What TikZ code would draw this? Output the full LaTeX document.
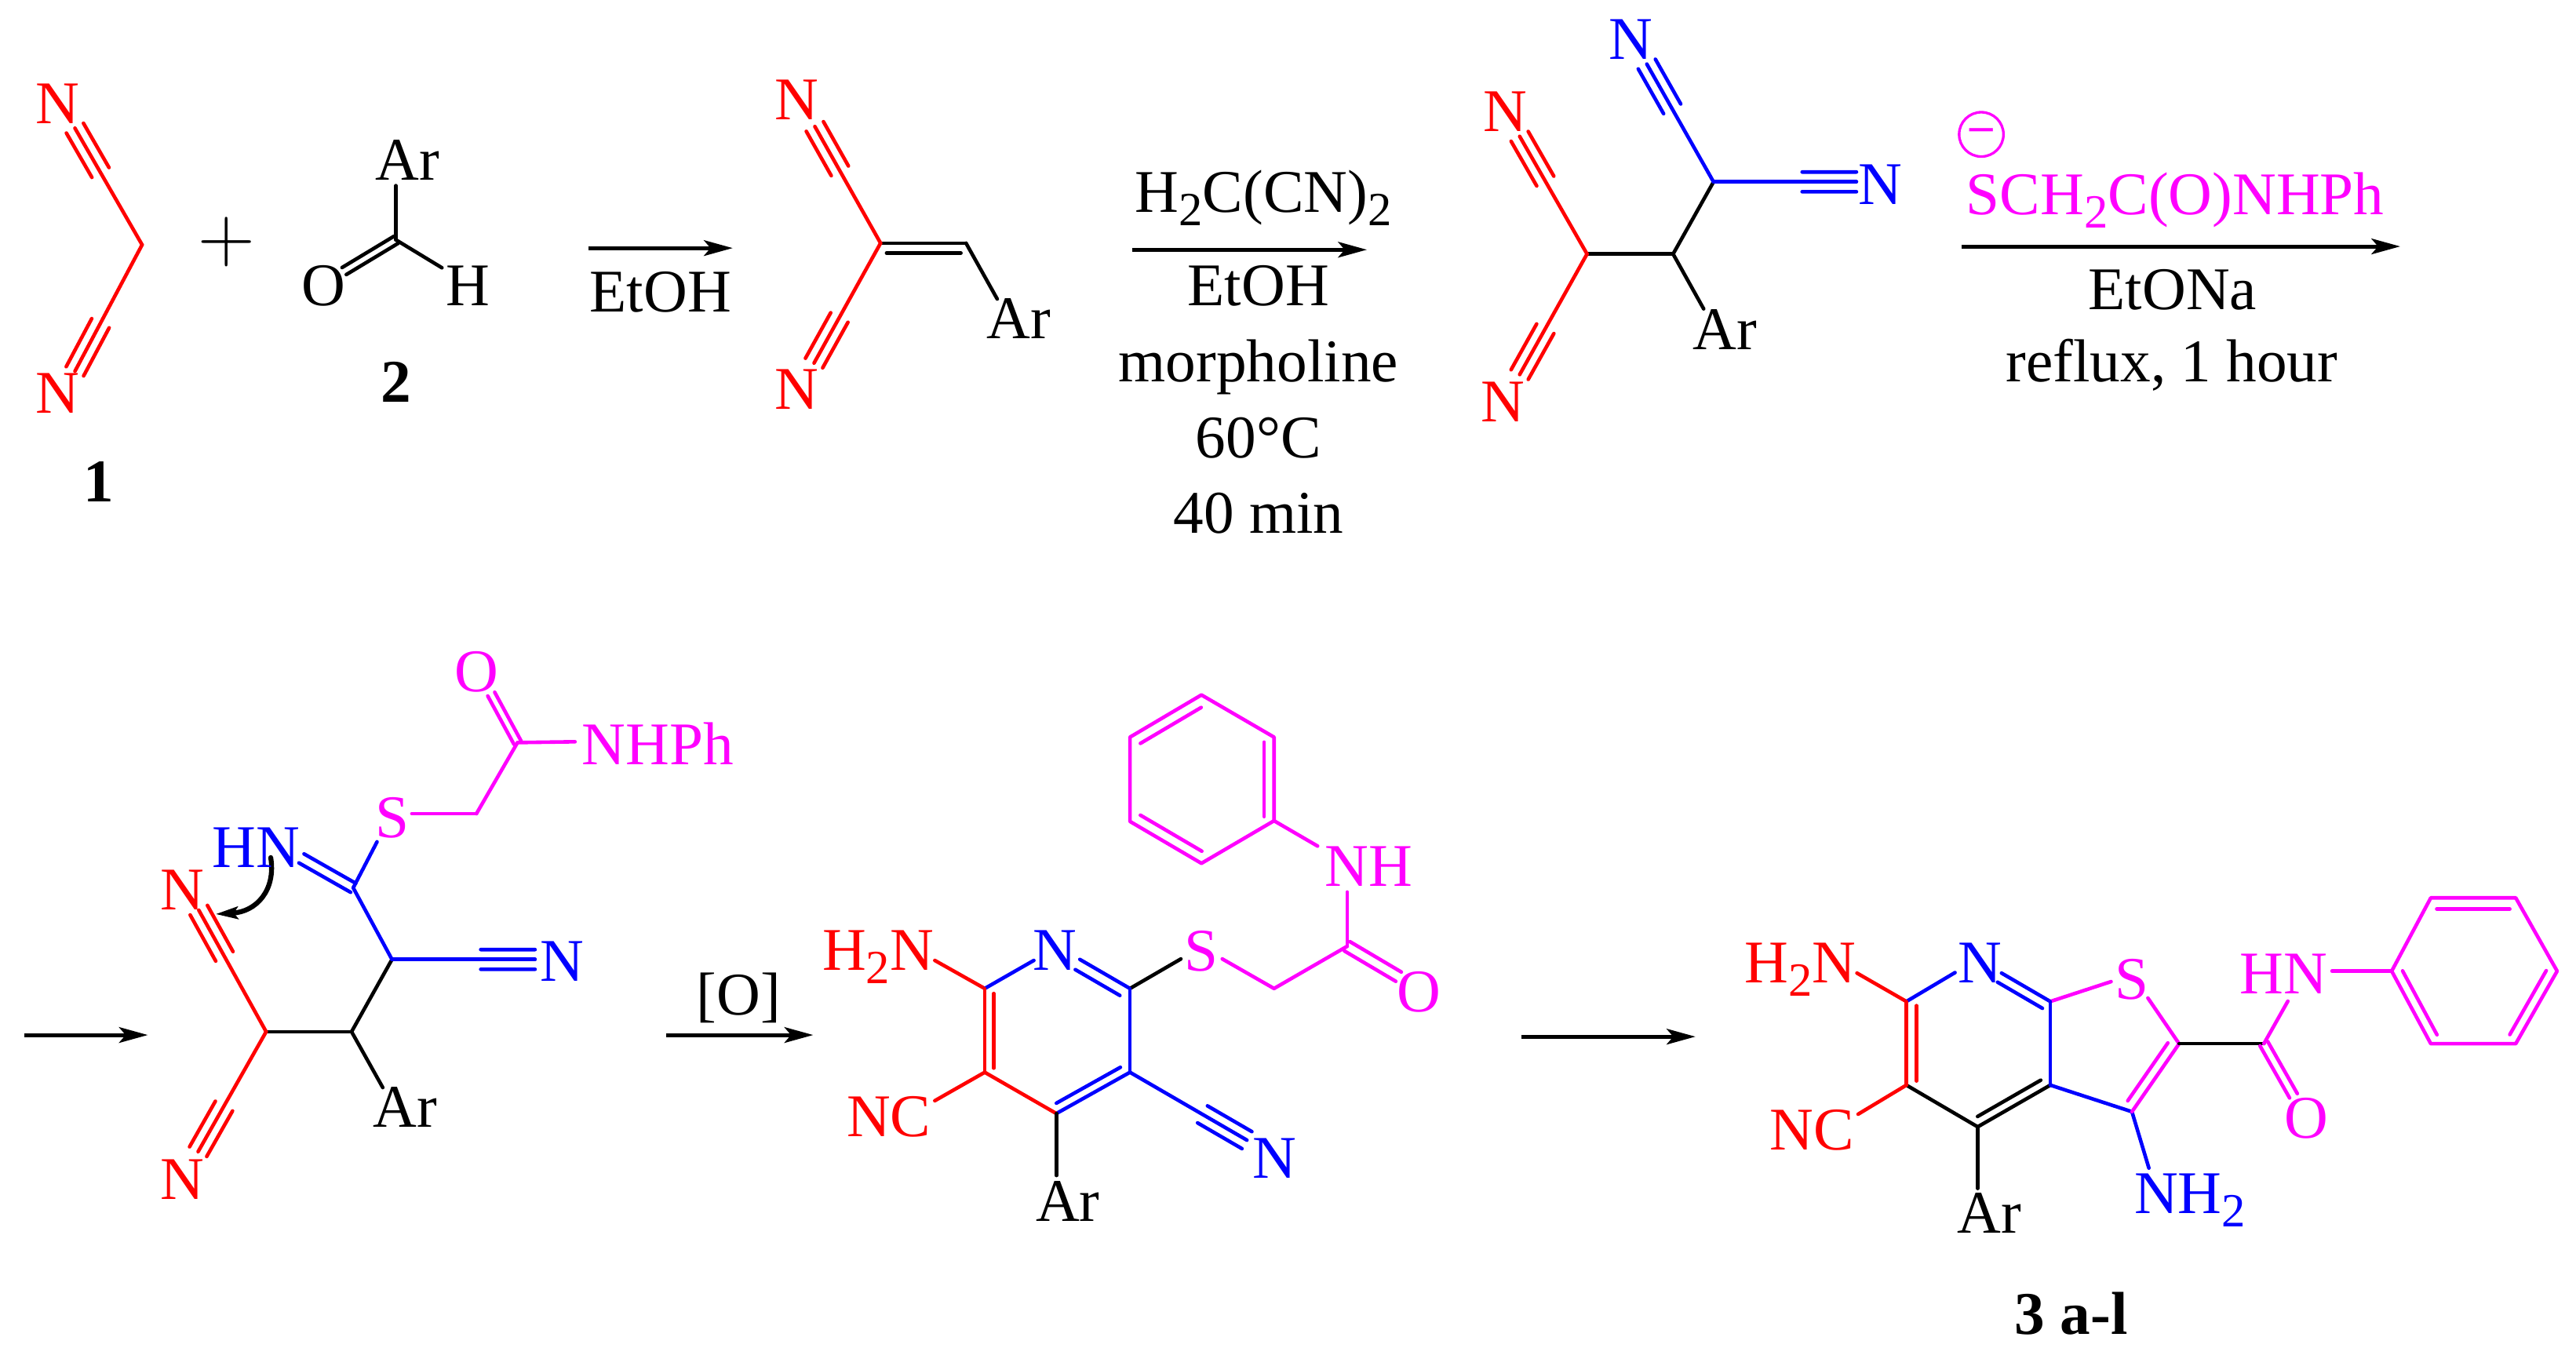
\documentclass[tikz,border=0pt]{standalone}
\usepackage{fontspec}
\setmainfont{Liberation Serif}
\usetikzlibrary{calc, arrows.meta}
\definecolor{magenta}{rgb}{1,0,1}
\newcommand{\chemsub}[1]{\raisebox{-0.22em}{\fontsize{16.5}{17}\selectfont #1}}
\newcommand{\tbond}[3]{\draw[bond,#3] (#1) -- (#2);
\foreach \off in {-0.12cm,0.12cm}{\draw[bond,#3] ($(#1)!0.62!(#2)!\off!90:(#2)$) -- ($(#2)!\off!-90:(#1)$);}}
\tikzset{
atom/.style={anchor=base, inner sep=0pt, font=\fontsize{21}{25}\selectfont},
bond/.style={line width=1.25pt, line cap=round, line join=round},
rxn/.style={line width=1.35pt, -{Stealth[length=0.35cm, width=0.19cm, inset=0.08cm]}}
}
\begin{document}
\begin{tikzpicture}[x=0.02cm, y=-0.02cm]
\useasboundingbox (0,0) rectangle (1568,826.8);
\foreach \nm/\x/\y in {
c1/86.5/149, e1t/45.6/78, e1b/45.6/226,
c2/241/146, c2a/241/113, c2o/209.5/165, c2h/269/163,
c3a/536/148, c3b/588/148, e3t/496/77, e3b/495.5/221, e3ar/607/182,
c4a/966/154.6, c4b/1018.4/154.6, c4c/1043/110.7, e4r/1130/110.7, e4t/1002.4/39, e5t/925/83, e5b/925/228, e4ar/1037/188,
c5a/162/628, c5b/214/628, c5c/238.6/584, c5d/215/540.4, e6t/121/554, e6b/120.6/701, e6r/325.7/584, e6n/183.5/522.5,
e6s/229.5/512.4, e6ar/233/662, e7s/250.7/495.3, c5e/290/495.3, c5f/315/452, c5o/299/422.5, e7n/350/451.5,
d2/599.4/601.7, d3/599.4/652.7, d4/643/677.8, d5/687.8/652.7, d6/687.8/601.7, d7/775.5/601.7, d8/820/576,
f7h/569/584.6, f7n/629.3/584.6, f7m/657.3/584, f7s/718.8/583.7, f7t/744/583.7, f7o/851.3/594.5, f7u/820/543, f7v/802/515,
f7c/569/670, f7a/643/715.5, f7r/759/694,
p1/731.3/423, p2/775.5/448.7, p3/775.5/499.6, p4/731.3/525.5, p5/687.8/500, p6/687.8/448.7,
g2/1160.4/609.6, g3/1160.4/660.5, g4/1203.8/685.9, g5/1248/660.5, g6/1248/609.6, g7/1297.7/676.7, g8/1326.4/635.3, g9/1378/635.3,
k1/1130.3/592.3, k2/1190/592, k3/1218.3/592.3, k4/1285/597.5, k5/1307.4/607.5, k6/1131/678.2, k7/1203.8/723.4, k8/1308/711,
k9/1396/667, k10/1392.6/609.4, k11/1419.5/591.1,
q1/1455.8/591.1, q2/1479.6/546.5, q3/1531.3/546.5, q4/1556.5/591.1, q5/1531.3/635.3, q6/1479.6/635.3,
a1s/358/151, a1e/446/151, a2s/689/152, a2e/832/152, a3s/1194/150, a3e/1461/150,
a4s/15/630, a4e/90/630, a5s/405.5/630, a5e/495/630, a6s/926/631, a6e/1032/631,
cv1/164.8/522, cv2/131.3/556.4%
}{
\coordinate (\nm) at (\x,\y);
}
% single bonds
\foreach \a/\b/\col in {
c2/c2a/black, c2/c2h/black, c3a/c3b/black, c3b/e3ar/black,
c4a/c4b/black, c4b/c4c/black, c4b/e4ar/black,
c5a/c5b/black, c5b/c5c/black, c5b/e6ar/black, c5c/c5d/blue, c5d/e6s/blue, e7s/c5e/magenta, c5e/c5f/magenta, c5f/e7n/magenta,
d2/f7h/red, d2/f7n/blue, d6/f7m/blue, d6/f7s/black, f7t/d7/magenta, d7/d8/magenta, d8/f7u/magenta, f7v/p3/magenta,
d6/d5/blue, d5/d4/blue, d4/d3/red, d3/d2/red, d3/f7c/red, d4/f7a/black,
g2/k1/red, g2/k2/blue, g6/k3/blue, g6/k4/magenta, g6/g5/blue, g5/g4/black, g4/g3/black, g3/g2/red, g3/k6/red, g4/k7/black,
g5/g7/blue, g7/k8/blue, g7/g8/magenta, k5/g8/magenta, g8/g9/black, g9/k10/magenta, k11/q1/magenta%
}{
\draw[bond,\col] (\a) -- (\b);
}
% inner lines of ring and chain double bonds
\foreach \a/\b/\off/\s/\e/\col in {
c3a/c3b/-0.12cm/0.07/0.94/black,
d6/f7m/0.135cm/0.09/0.98/blue, d5/d4/-0.11cm/0.07/0.94/blue, d2/d3/0.11cm/0.06/0.95/red,
p1/p6/0.13cm/0.08/0.93/magenta, p2/p3/-0.12cm/0.06/0.95/magenta, p4/p5/-0.13cm/0.07/0.93/magenta,
g6/k3/0.12cm/0.06/0.98/blue, g2/g3/0.124cm/0.05/0.95/red, g5/g4/-0.11cm/0.07/0.94/black, g8/g7/-0.118cm/0.07/0.92/magenta,
q2/q3/-0.136cm/0.07/0.93/magenta, q4/q5/-0.118cm/0.06/0.94/magenta, q1/q6/0.118cm/0.06/0.94/magenta%
}{
\draw[bond,\col] ($(\a)!\s!(\b)!\off!90:(\b)$) -- ($(\a)!\e!(\b)!\off!90:(\b)$);
}
% C=O and C=N drawn as two lines
\foreach \a/\b/\w/\col in {
c2/c2o/0.05cm/black, c5d/e6n/0.063cm/blue, c5f/c5o/0.048cm/magenta, d8/f7o/0.066cm/magenta, g9/k9/0.054cm/magenta%
}{
\foreach \o in {\w,-\w}{
\draw[bond,\col] ($(\a)!\o!90:(\b)$) -- ($(\b)!\o!-90:(\a)$);
}
}
% nitriles
\foreach \a/\b/\col in {
c1/e1t/red, c1/e1b/red, c3a/e3t/red, c3a/e3b/red,
c4a/e5t/red, c4a/e5b/red, c4c/e4t/blue, c4c/e4r/blue,
c5a/e6t/red, c5a/e6b/red, c5c/e6r/blue, d5/f7r/blue%
}{
\tbond{\a}{\b}{\col}
}
% rings
\draw[bond,magenta] (p1) -- (p2) -- (p3) -- (p4) -- (p5) -- (p6) -- cycle;
\draw[bond,magenta] (q1) -- (q2) -- (q3) -- (q4) -- (q5) -- (q6) -- cycle;
% arrows
\foreach \n in {1,...,6}{
\draw[rxn] (a\n s) -- (a\n e);
}
\draw[line width=1.7pt, line cap=round, -{Stealth[length=0.27cm, width=0.15cm, inset=0.05cm]}] (cv1) .. controls (168,542) and (156,555) .. (cv2);
% labels
\foreach \nm/\x/\y/\txt/\col in {
n1t/35/75/N/red, n1b/35/251.4/N/red, l1/60/305.5/{\bfseries 1}/black,
ar2/248/109.5/Ar/black, o2/197/186/O/black, h2/285/186/H/black, l2/241/245/{\bfseries 2}/black,
etoh1/402/190/EtOH/black,
n3t/485/73/N/red, n3b/485/249/N/red, ar3/620/206/Ar/black,
cond1/769/129.4/{H\chemsub{2}C(CN)\chemsub{2}}/black, etoh2/766/186/EtOH/black, morph/766/232.5/morpholine/black,
temp/766/278.5/60°C/black, time/766/324.5/40 min/black,
n4t/992.6/36/N/blue, n4r/1144.6/124.6/N/blue, n5t/916/80/N/red, n5b/915/256.6/N/red, ar4/1050/212.7/Ar/black,
thio/1324/130.5/{SCH\chemsub{2}C(O)NHPh}/magenta, etona/1322.4/188.6/EtONa/black, refl/1322/232.5/{reflux, 1 hour}/black,
hn6/156/528/HN/blue, n6t/111/554/N/red, n6b/111/730/N/red, n6r/342/597.4/N/blue, s6/239/510/S/magenta, o6/290/421/O/magenta,
nhph/400.5/465.3/NHPh/magenta, ar6/246.5/686/Ar/black, ox/449.7/618/[O]/black,
nh7/833/539.6/NH/magenta, o7/863.8/615.7/O/magenta, s7/731/591/S/magenta, n7/642/590.5/N/blue,
h2n7/534.5/590.5/{H\chemsub{2}N}/red, nc7/541/692/NC/red, n7r/776/717/N/blue, ar7/650/743.3/Ar/black,
h2n8/1095.8/598.4/{H\chemsub{2}N}/red, n8/1205/598.4/N/blue, s8/1297.7/608/S/magenta, hn8/1390/604.8/HN/magenta,
o8/1403.7/693/O/magenta, nc8/1102.8/700/NC/red, nh28/1333/738.7/{NH\chemsub{2}}/blue, ar8/1211/750.6/Ar/black,
l3/1260.8/812.2/{\bfseries 3 a-l}/black%
}{
\node[atom,\col] (\nm) at (\x,\y) {\txt};
}
\node[atom, scale=1.1, font=\fontsize{24.88}{30}\selectfont] (plus) at (138,159.5) {$+$};
\node[draw, circle, magenta, inner sep=0pt, minimum size=0.54cm, line width=0.9pt, font=\fontsize{16}{16}\selectfont\bfseries] (chg) at (1206,81.8) {--};
\end{tikzpicture}
\end{document}
